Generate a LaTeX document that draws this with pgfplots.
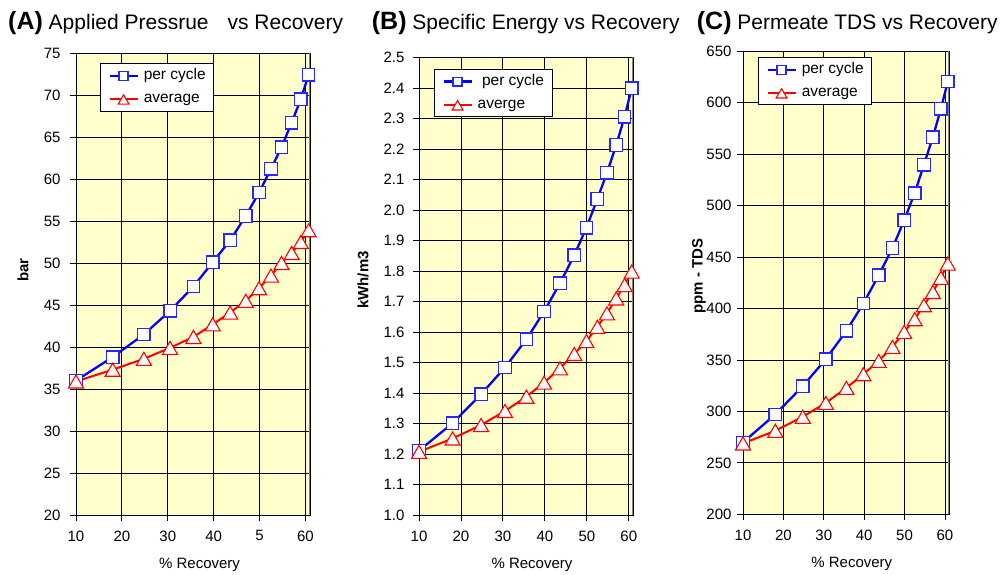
\documentclass[border=0pt]{standalone}
\usepackage{pgfplots}
\usepackage{pgfplotstable}
\usepackage{fontspec}
\setmainfont{Liberation Sans}
\pgfplotsset{compat=1.18}
\definecolor{bgyellow}{HTML}{FFFFCC}
\pgfplotstableread{
x     Ap    Aa    Bp     Ba     Cp     Ca
10    36.0  35.9  1.211  1.207  269.9  268.9
18    38.8  37.3  1.301  1.251  297.1  281.2
24.8  41.5  38.6  1.396  1.295  324.6  294.8
30.5  44.3  39.9  1.484  1.341  350.8  308.3
35.6  47.2  41.2  1.576  1.388  378.3  322.9
39.8  50.1  42.7  1.667  1.434  404.9  336.2
43.6  52.7  44.1  1.760  1.481  432.3  349.1
47.0  55.6  45.5  1.852  1.528  458.8  362.7
49.9  58.4  47.0  1.942  1.570  485.7  377.3
52.5  61.2  48.5  2.036  1.617  512.2  389.6
54.8  63.8  50.0  2.122  1.661  539.8  403.2
57.0  66.7  51.2  2.213  1.710  566.6  416.1
59.0  69.5  52.5  2.306  1.754  594.2  429.9
60.7  72.4  53.9  2.399  1.798  620.7  443.7
}\data
\pgfplotsset{
  panel/.style={
    scale only axis,
    xmin=10, xmax=61, xtick={10,20,...,60},
    tick align=outside, xtick pos=left, ytick pos=left,
    major tick length=6pt,
    grid=major,
    major grid style={black, line width=0.9pt},
    axis line style={black, line width=0.9pt},
    tick style={black, line width=0.9pt},
    axis background/.style={fill=bgyellow},
    tick label style={font=\fontsize{15}{18}\selectfont},
    xticklabel style={yshift=-6pt},
    /pgf/number format/assume math mode=true,
    legend cell align=left,
    legend style={font=\fontsize{15.5}{18}\selectfont, draw=black, line width=0.9pt, anchor=north west, fill=white,
      inner xsep=8pt, inner ysep=5pt, row sep=8.5pt, column sep=5pt,
      nodes={inner sep=0pt, text height=11pt, text depth=3.5pt}},
    legend image code/.code={\draw[mark repeat=2,mark phase=2,##1] plot coordinates {(0pt,0pt) (14pt,0pt) (28pt,0pt)};},
    legend image post style={every mark/.append style={scale=0.72}},
    every axis x label/.style={at={(axis description cs:0.528,-0.108)}, anchor=center, font=\fontsize{15}{18}\selectfont},
  },
  pc/.style={blue, line width=2.3pt, mark=square*, mark size=6.2pt, mark options={fill=white, draw=blue!85!white, line width=1.3pt, solid}},
  av/.style={red, line width=2pt, mark=triangle*, mark size=8.7pt, mark options={fill=white, draw=red, line width=1.1pt, solid, yshift=-2.2pt}},
}
\begin{document}
\begin{tikzpicture}
\useasboundingbox (0,0) rectangle (1007pt,575pt);
% titles
\node[anchor=base west, inner sep=0] at (8pt,545.5pt) {\fontsize{25}{28}\selectfont\bfseries (A)\fontsize{21}{25}\mdseries\selectfont\ Applied Pressrue\hspace{19pt}vs Recovery};
\node[anchor=base west, inner sep=0] at (371.7pt,545.5pt) {\fontsize{25}{28}\selectfont\bfseries (B)\fontsize{21}{25}\mdseries\selectfont\ Specific Energy vs Recovery};
\node[anchor=base west, inner sep=0] at (696.7pt,545.5pt) {\fontsize{25}{28}\selectfont\bfseries (C)\fontsize{21}{25}\mdseries\selectfont\ Permeate TDS vs Recovery};

% Panel A
\begin{axis}[panel, at={(76pt,60pt)}, anchor=south west, width=234pt, height=462pt,
  ymin=20, ymax=75, ytick={20,25,...,75},
  yticklabel style={xshift=-6pt},
  xticklabels={10,20,30,40,5,60},
  xlabel={\% Recovery}, ylabel={\textbf{bar}},
  every axis y label/.style={at={(axis description cs:-0.2265,0.53)}, rotate=90, anchor=center, font=\fontsize{15}{18}\selectfont},
  legend style={at={(axis description cs:0.1026,0.978)}}]
\addplot[pc] table[x=x, y=Ap] {\data};
\addplot[av] table[x=x, y=Aa] {\data};
\legend{per cycle, average}
\draw[gray, line width=1.6pt] (rel axis cs:1,0) -- (rel axis cs:1,1);
\end{axis}

% Panel B
\begin{axis}[panel, at={(419pt,60pt)}, anchor=south west, width=214pt, height=457.5pt,
  ymin=1.0, ymax=2.5, ytick={1.0,1.1,...,2.51},
  yticklabel style={xshift=-5pt, /pgf/number format/.cd, fixed, fixed zerofill, precision=1},
  xlabel={\% Recovery}, ylabel={\textbf{kWh/m3}},
  every axis y label/.style={at={(axis description cs:-0.2617,0.5137)}, rotate=90, anchor=center, font=\fontsize{15}{18}\selectfont},
  legend style={at={(axis description cs:0.070,0.975)}}]
\addplot[pc] table[x=x, y=Bp] {\data};
\addplot[av] table[x=x, y=Ba] {\data};
\legend{\ per cycle, averge}
\draw[gray, line width=1.6pt] (rel axis cs:1,0) -- (rel axis cs:1,1);
\end{axis}

% Panel C
\begin{axis}[panel, at={(743pt,60.7pt)}, anchor=south west, width=206pt, height=463pt,
  ymin=200, ymax=650, ytick={200,250,...,650},
  yticklabel style={xshift=-2pt},
  xlabel={\% Recovery}, ylabel={\textbf{ppm - TDS}},
  every axis y label/.style={at={(axis description cs:-0.2136,0.5147)}, rotate=90, anchor=center, font=\fontsize{15}{18}\selectfont},
  legend style={at={(axis description cs:0.0728,0.9877)}}]
\addplot[pc] table[x=x, y=Cp] {\data};
\addplot[av] table[x=x, y=Ca] {\data};
\legend{per cycle, average}
\draw[gray, line width=1.6pt] (rel axis cs:1,0) -- (rel axis cs:1,1);
\end{axis}
\end{tikzpicture}
\end{document}
